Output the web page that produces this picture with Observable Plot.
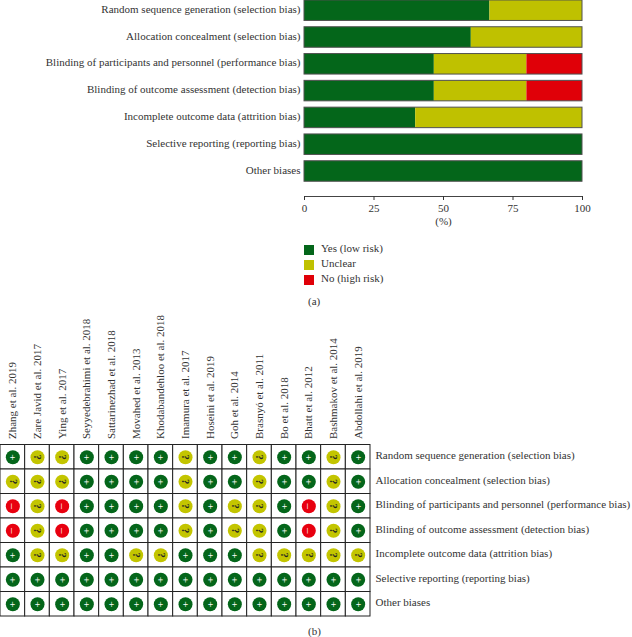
<!DOCTYPE html>
<html>
<head>
<meta charset="utf-8">
<script src="https://cdn.jsdelivr.net/npm/d3@7"></script>
<script src="https://cdn.jsdelivr.net/npm/@observablehq/plot@0.6"></script>
<style>
html,body{margin:0;padding:0;background:#fff;}
#page{position:relative;width:632px;height:637px;overflow:hidden;font-family:"Liberation Serif",serif;color:#333;}
#page svg{position:absolute;left:0;overflow:visible;background:transparent;}
.lab{position:absolute;font-size:11px;line-height:12px;white-space:nowrap;}
.sw{position:absolute;width:10px;height:10px;}
</style>
</head>
<body>
<div id="page"></div>
<script>
const domains = [
  "Random sequence generation (selection bias)",
  "Allocation concealment (selection bias)",
  "Blinding of participants and personnel (performance bias)",
  "Blinding of outcome assessment (detection bias)",
  "Incomplete outcome data (attrition bias)",
  "Selective reporting (reporting bias)",
  "Other biases"
];
const riskLabels = ["Yes (low risk)", "Unclear", "No (high risk)"];
const riskColors = ["#04661a", "#bfc100", "#e00008"];
const yesPct     = [66.7, 60, 46.7, 46.7, 40, 100, 100];
const unclearPct = [33.3, 40, 33.3, 33.3, 60, 0, 0];
const noPct      = [0, 0, 20, 20, 0, 0, 0];
const xTicks = [0, 25, 50, 75, 100];

const studies = [
  "Zhang et al. 2019","Zare Javid et al. 2017","Ying et al. 2017","Seyyedebrahimi et al. 2018",
  "Sattarinezhad et al. 2018","Movahed et al. 2013","Khodabandehloo et al. 2018","Imamura et al. 2017",
  "Hoseini et al. 2019","Goh et al. 2014","Brasnyó et al. 2011","Bo et al. 2018",
  "Bhatt et al. 2012","Bashmakov et al. 2014","Abdollahi et al. 2019"
];
const randomSeq  = ["+","?","?","+","+","+","+","?","+","+","?","+","+","?","+"];
const allocation = ["?","?","?","+","+","+","+","?","+","+","?","+","+","?","+"];
const blindPart  = ["-","?","-","+","+","+","+","?","+","?","?","+","-","?","+"];
const blindOut   = ["-","?","-","+","+","+","+","?","+","?","?","+","-","?","+"];
const incomplete = ["+","?","?","+","+","?","?","+","+","+","?","?","?","?","?"];
const selective  = ["+","+","+","+","+","+","+","+","+","+","+","+","+","+","+"];
const other      = ["+","+","+","+","+","+","+","+","+","+","+","+","+","+","+"];
const judgements = [randomSeq, allocation, blindPart, blindOut, incomplete, selective, other];

const page = document.getElementById("page");
const font = {fontFamily:"Liberation Serif, serif", fontSize:"11px", color:"#333", background:"transparent"};

// Panel (a)
const barRows = domains.flatMap((d,i)=>[
  {domain:d, risk:riskLabels[0], pct:yesPct[i]},
  {domain:d, risk:riskLabels[1], pct:unclearPct[i]},
  {domain:d, risk:riskLabels[2], pct:noPct[i]}
]).filter(r=>r.pct>0);

const panelA = Plot.plot({
  width:632, height:300,
  marginLeft:304, marginRight:50, marginTop:0, marginBottom:104,
  style:font,
  x:{domain:[0,100], ticks:xTicks},
  y:{domain:domains, range:[-3.2,184.4], paddingInner:0.235, paddingOuter:0.1175, round:false},
  color:{domain:riskLabels, range:riskColors},
  marks:[
    Plot.barX(barRows, Plot.stackX({x:"pct", y:"domain", fill:"risk"})),
    Plot.barX(domains, {x1:0, x2:100, y:d=>d, stroke:"#505050", strokeWidth:1, fill:"none"}),
    Plot.frame({anchor:"bottom", stroke:"#444"}),
    Plot.axisX({ticks:xTicks, tickSize:4, tickPadding:4, label:"(%)", labelAnchor:"center", labelArrow:"none", labelOffset:28, fontSize:11}),
    Plot.axisY({anchor:"left", tickSize:0, tickPadding:4, label:null, fontSize:11, lineWidth:Infinity, dy:-1.5})
  ]
});
panelA.style.top = "0px";
page.appendChild(panelA);

// Legend
[245,260,275].forEach((y,i)=>{
  const s=document.createElement("div"); s.className="sw";
  s.style.cssText=`left:304px;top:${y}px;background:${riskColors[i]}`;
  page.appendChild(s);
  const t=document.createElement("div"); t.className="lab"; t.textContent=riskLabels[i];
  t.style.cssText=`left:321px;top:${y-3}px`;
  page.appendChild(t);
});

// Panel (b)
const cells = domains.flatMap((d,i)=>studies.map((s,j)=>({domain:d, study:s, j:judgements[i][j]})));
const mark = {"+":"+", "-":"–"};
const dotColor = c => c==="+"?riskColors[0]:c==="?"?"#c3c500":"#e8000f";

const panelB = Plot.plot({
  width:632, height:337,
  marginLeft:0, marginRight:262, marginTop:144.5, marginBottom:21,
  style:font,
  x:{domain:studies, padding:0, round:false},
  y:{domain:domains, padding:0, round:false},
  marks:[
    Plot.cell(cells, {x:"study", y:"domain", fill:"#fff", stroke:"#222", strokeWidth:1}),
    Plot.dot(cells, {x:"study", y:"domain", r:7, fill:d=>dotColor(d.j)}),
    Plot.text(cells.filter(c=>c.j!=="?"), {x:"study", y:"domain", text:d=>mark[d.j], rotate:90, fontSize:11, fill:"#fff"}),
    Plot.text(cells.filter(c=>c.j==="?"), {x:"study", y:"domain", text:()=>"?", rotate:90, fontSize:10, fontWeight:"bold", fill:"#222"}),
    Plot.axisX({anchor:"top", tickSize:0, tickPadding:6, tickRotate:-90, label:null, fontSize:11, lineWidth:Infinity}),
    Plot.axisY({anchor:"right", tickSize:0, tickPadding:5, label:null, fontSize:11, lineWidth:Infinity, dy:-1.5})
  ]
});
panelB.style.top = "300px";
page.appendChild(panelB);

[["(a)",295],["(b)",625]].forEach(([t,y])=>{
  const e=document.createElement("div"); e.className="lab"; e.textContent=t;
  e.style.cssText=`left:308px;top:${y}px`;
  page.appendChild(e);
});
</script>
</body>
</html>
